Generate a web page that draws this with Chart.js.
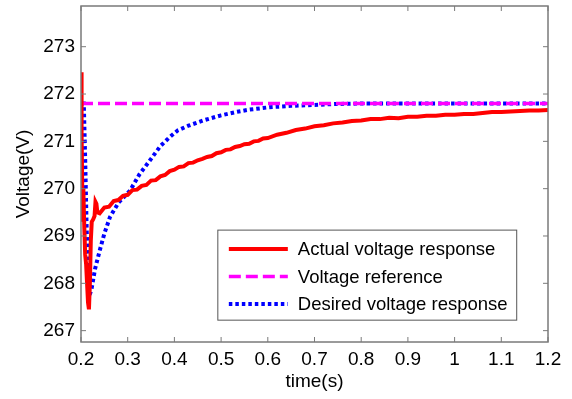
<!DOCTYPE html>
<html>
<head>
<meta charset="utf-8">
<script src="https://cdn.jsdelivr.net/npm/chart.js@4"></script>
<style>
  html, body { margin: 0; padding: 0; background: #fff; }
  #wrap { width: 572px; height: 399px; position: relative; }
</style>
</head>
<body>
<div id="wrap"><canvas id="myChart" width="572" height="399"></canvas></div>
<script>
'use strict';

// actual voltage response (red), a bit ragged like the scope trace
let actualTime = [
  0.2, 0.2005, 0.202, 0.2035, 0.205, 0.207, 0.209, 0.211, 0.213, 0.215,
  0.217, 0.219, 0.221, 0.223, 0.226, 0.229, 0.231, 0.233, 0.235, 0.24,
  0.25, 0.26, 0.27, 0.28, 0.29, 0.30, 0.31, 0.32, 0.33, 0.34,
  0.35, 0.36, 0.37, 0.38, 0.39, 0.40, 0.41, 0.42, 0.43, 0.44,
  0.45, 0.46, 0.47, 0.48, 0.49, 0.50, 0.51, 0.52, 0.53, 0.54,
  0.55, 0.56, 0.57, 0.58, 0.59, 0.60, 0.62, 0.64, 0.66, 0.68,
  0.70, 0.72, 0.74, 0.76, 0.78, 0.80, 0.82, 0.84, 0.86, 0.88,
  0.90, 0.92, 0.94, 0.96, 0.98, 1.00, 1.02, 1.04, 1.06, 1.08,
  1.10, 1.12, 1.14, 1.16, 1.18, 1.20
];
let actualVolt = [
  272.46, 270.6, 271.2, 269.3, 270.0, 269.2, 268.6, 268.4, 268.0, 267.6,
  267.45, 268.0, 268.9, 269.3, 269.35, 269.42, 269.72, 269.68, 269.5, 269.48,
  269.6, 269.62, 269.74, 269.76, 269.85, 269.87, 269.97, 269.98, 270.06, 270.08,
  270.17, 270.18, 270.26, 270.29, 270.37, 270.4, 270.46, 270.47, 270.54, 270.55,
  270.6, 270.63, 270.67, 270.69, 270.75, 270.77, 270.82, 270.83, 270.88, 270.9,
  270.94, 270.95, 271.0, 271.01, 271.06, 271.07, 271.14, 271.18, 271.24, 271.27,
  271.32, 271.34, 271.38, 271.4, 271.43, 271.44, 271.47, 271.47, 271.5, 271.49,
  271.52, 271.52, 271.54, 271.54, 271.56, 271.56, 271.58, 271.58, 271.6, 271.62,
  271.62, 271.63, 271.64, 271.65, 271.65, 271.66
];

// voltage reference (magenta)
let refTime = [0.2, 1.2];
let refVolt = [271.8, 271.8];

// desired voltage response (blue)
let desiredTime = [
  0.2, 0.206, 0.209, 0.212, 0.215, 0.218, 0.222, 0.23, 0.24, 0.25,
  0.262, 0.28, 0.305, 0.325, 0.347, 0.37, 0.39, 0.407, 0.43, 0.461,
  0.5, 0.532, 0.56, 0.603, 0.65, 0.7, 0.75, 0.8, 0.9, 1.0, 1.1, 1.2
];
let desiredVolt = [
  271.8, 271.8, 270.6, 269.2, 268.2, 267.75, 267.85, 268.3, 268.69, 269.05,
  269.4, 269.7, 269.96, 270.3, 270.59, 270.9, 271.09, 271.23, 271.33, 271.44,
  271.55, 271.62, 271.67, 271.72, 271.75, 271.77, 271.79, 271.8, 271.8, 271.8, 271.8, 271.8
];

let xTicks = [0.2, 0.3, 0.4, 0.5, 0.6, 0.7, 0.8, 0.9, 1, 1.1, 1.2];
let yTicks = [267, 268, 269, 270, 271, 272, 273];

let seriesNames = ['Actual voltage response', 'Voltage reference', 'Desired voltage response'];

function toPoints(xs, ys) {
  let pts = [];
  for (let i = 0; i < xs.length; i++) {
    pts.push({ x: xs[i], y: ys[i] });
  }
  return pts;
}

const FONT = "'Liberation Sans', Arial, sans-serif";
const AXIS_COLOR = '#7a7a7a';

// box round the plot with inward ticks, matlab style
const boxPlugin = {
  id: 'box',
  afterDraw(chart) {
    const ctx = chart.ctx;
    const a = chart.chartArea;
    const xs = chart.scales.x;
    const ys = chart.scales.y;
    ctx.save();
    ctx.strokeStyle = AXIS_COLOR;
    ctx.lineWidth = 1.5;
    ctx.strokeRect(a.left, a.top, a.right - a.left, a.bottom - a.top);
    ctx.lineWidth = 1;
    ctx.beginPath();
    for (let i = 0; i < xTicks.length; i++) {
      let px = xs.getPixelForValue(xTicks[i]);
      ctx.moveTo(px, a.bottom); ctx.lineTo(px, a.bottom - 5);
      ctx.moveTo(px, a.top); ctx.lineTo(px, a.top + 5);
    }
    for (let i = 0; i < yTicks.length; i++) {
      let py = ys.getPixelForValue(yTicks[i]);
      ctx.moveTo(a.left, py); ctx.lineTo(a.left + 5, py);
      ctx.moveTo(a.right, py); ctx.lineTo(a.right - 5, py);
    }
    ctx.stroke();
    ctx.restore();
  }
};

// legend box inside the plot, lower right
const legendPlugin = {
  id: 'boxLegend',
  afterDraw(chart) {
    const ctx = chart.ctx;
    const a = chart.chartArea;
    const w = a.right - a.left;
    const h = a.bottom - a.top;
    const left = a.left + w * 0.293;
    const right = a.left + w * 0.933;
    const top = a.top + h * 0.667;
    const bottom = a.top + h * 0.935;
    ctx.save();
    ctx.fillStyle = '#fff';
    ctx.fillRect(left, top, right - left, bottom - top);
    ctx.strokeStyle = '#555';
    ctx.lineWidth = 1;
    ctx.strokeRect(left, top, right - left, bottom - top);
    const ds = chart.data.datasets;
    const rowH = 27.5;
    ctx.font = '18.5px ' + FONT;
    ctx.textBaseline = 'middle';
    for (let i = 0; i < ds.length; i++) {
      let y = top + 19 + i * rowH;
      ctx.beginPath();
      ctx.strokeStyle = ds[i].borderColor;
      ctx.lineWidth = ds[i].borderWidth;
      ctx.setLineDash(ds[i].borderDash || []);
      ctx.moveTo(left + 11, y);
      ctx.lineTo(left + 70, y);
      ctx.stroke();
      ctx.setLineDash([]);
      ctx.fillStyle = '#000';
      ctx.fillText(ds[i].label, left + 80, y + 1);
    }
    ctx.restore();
  }
};

function noPad(axis) {
  axis.paddingTop = 0;
  axis.paddingBottom = 0;
  axis.paddingLeft = 0;
  axis.paddingRight = 0;
}

let ctx = document.getElementById('myChart').getContext('2d');
let myChart = new Chart(ctx, {
  type: 'scatter',
  data: {
    datasets: [{
      label: seriesNames[0],
      data: toPoints(actualTime, actualVolt),
      showLine: true,
      borderColor: '#ff0000',
      borderWidth: 4,
      pointRadius: 0,
      tension: 0
    }, {
      label: seriesNames[1],
      data: toPoints(refTime, refVolt),
      showLine: true,
      borderColor: '#ff00ff',
      borderWidth: 3.5,
      borderDash: [12, 5],
      pointRadius: 0
    }, {
      label: seriesNames[2],
      data: toPoints(desiredTime, desiredVolt),
      showLine: true,
      borderColor: '#0000ff',
      borderWidth: 4,
      borderDash: [3.5, 3],
      pointRadius: 0,
      tension: 0
    }]
  },
  options: {
    responsive: false,
    animation: false,
    layout: { padding: { left: 0, right: 24, top: 6, bottom: 0 } },
    plugins: {
      legend: { display: false },
      tooltip: { enabled: false }
    },
    scales: {
      x: {
        type: 'linear',
        min: 0.2,
        max: 1.2,
        afterBuildTicks: (axis) => { axis.ticks = xTicks.map(v => ({ value: v })); },
        afterFit: (axis) => { axis.height = 57; noPad(axis); },
        grid: { display: false, drawTicks: false },
        border: { display: false },
        ticks: {
          color: '#000',
          padding: 6,
          maxRotation: 0,
          font: { family: FONT, size: 19 },
          callback: (v) => String(v)
        },
        title: {
          display: true,
          text: 'time(s)',
          color: '#000',
          padding: { top: 0, bottom: 6 },
          font: { family: FONT, size: 19 }
        }
      },
      y: {
        type: 'linear',
        min: 266.76,
        max: 273.86,
        afterBuildTicks: (axis) => { axis.ticks = yTicks.map(v => ({ value: v })); },
        afterFit: (axis) => { axis.width = 81; noPad(axis); },
        grid: { display: false, drawTicks: false },
        border: { display: false },
        ticks: {
          color: '#000',
          padding: 6,
          font: { family: FONT, size: 19 },
          callback: (v) => String(v)
        },
        title: {
          display: true,
          text: 'Voltage(V)',
          color: '#000',
          padding: { top: 12, bottom: 0 },
          font: { family: FONT, size: 19 }
        }
      }
    }
  },
  plugins: [boxPlugin, legendPlugin]
});
</script>
</body>
</html>
